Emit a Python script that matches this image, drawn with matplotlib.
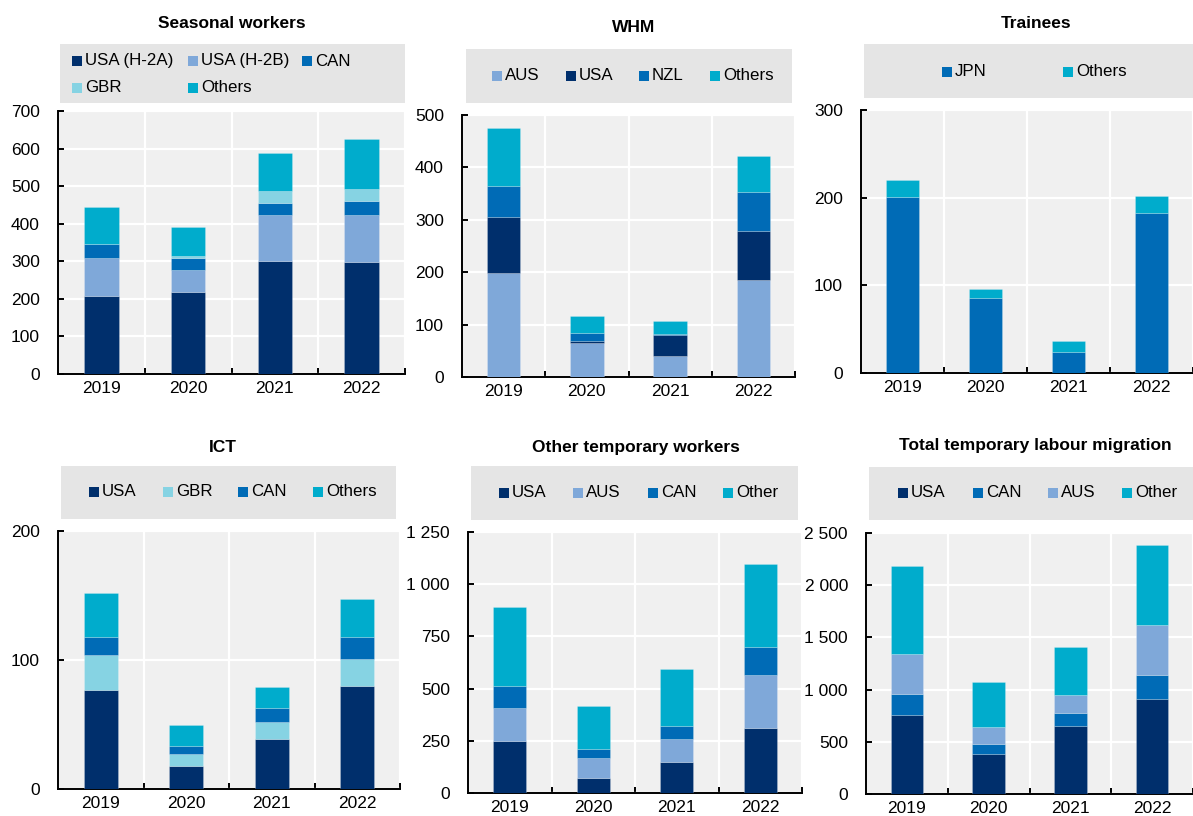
import numpy as np
import matplotlib
matplotlib.use('Agg')
import matplotlib.pyplot as plt
from matplotlib.patches import Rectangle
from matplotlib.ticker import FuncFormatter, FixedLocator

plt.rcParams['font.family'] = ['Liberation Sans', 'DejaVu Sans']

W, H = 1193, 816

NAVY = '#002F6C'
LIGHT = '#7FA8D9'
BLUE = '#006BB6'
PALE = '#86D3E3'
CYAN = '#00ACCC'
PLOT_BG = '#F0F0F0'
BOX_BG = '#E5E5E5'

years = ['2019', '2020', '2021', '2022']

# Seasonal workers (thousands)
seasonal_h2a = [207, 217, 302, 297]
seasonal_h2b = [101, 60, 120, 125]
seasonal_can = [37, 31, 34, 38]
seasonal_gbr = [0, 7, 31, 33]
seasonal_oth = [100, 76, 100, 132]

# Working holiday makers
whm_aus = [198, 65, 41, 186]
whm_usa = [108, 4, 40, 93]
whm_nzl = [59, 15, 1, 75]
whm_oth = [111, 33, 25, 67]

# Trainees
trn_jpn = [201, 86, 24, 182]
trn_oth = [19, 10, 13, 20]

# Intra-company transfers
ict_usa = [77, 18, 39, 80]
ict_gbr = [27, 9, 13, 21]
ict_can = [14, 6, 11, 17]
ict_oth = [34, 17, 16, 29]

# Other temporary workers
otw_usa = [251, 73, 150, 311]
otw_aus = [155, 94, 109, 256]
otw_can = [106, 46, 64, 131]
otw_oth = [381, 204, 273, 399]

# Total temporary labour migration
tot_usa = [755, 379, 653, 911]
tot_can = [204, 99, 124, 229]
tot_aus = [379, 165, 172, 478]
tot_oth = [850, 430, 455, 767]


def fmt_thousands(v, pos):
    return f'{v:,.0f}'.replace(',', ' ')


def stacked_panel(fig, rect, title, title_xy, series, labels, colors, ymax, ystep,
                  box, item_x, item_y):
    ax = fig.add_axes(rect)
    ax.set_facecolor(PLOT_BG)
    x = np.arange(len(years))
    bottom = np.zeros(len(years))
    for vals, col in zip(series, colors):
        vals = np.asarray(vals, dtype=float)
        ax.bar(x, vals, width=0.4, bottom=bottom, color=col,
               edgecolor=(1, 1, 1, 0.35), linewidth=0.4, zorder=3)
        bottom += vals

    ax.set_xlim(-0.5, len(years) - 0.5)
    ax.set_ylim(0, ymax)
    ax.set_yticks(np.arange(0, ymax + 1, ystep))
    ax.yaxis.set_major_formatter(FuncFormatter(fmt_thousands))
    ax.set_xticks(x)
    ax.set_xticklabels(years)
    ax.xaxis.set_minor_locator(FixedLocator([0.5, 1.5, 2.5, 3.5]))

    ax.grid(axis='y', which='major', color='white', linewidth=1.6, zorder=1)
    ax.grid(axis='x', which='minor', color='white', linewidth=1.6, zorder=1)
    ax.set_axisbelow(True)

    for s in ['top', 'right']:
        ax.spines[s].set_visible(False)
    for s in ['left', 'bottom']:
        ax.spines[s].set_linewidth(1.4)
        ax.spines[s].set_color('black')

    ax.tick_params(axis='x', which='major', length=0, pad=5, labelsize=12.5)
    ax.tick_params(axis='x', which='minor', direction='in', length=4, width=1.4)
    ax.tick_params(axis='y', direction='in', length=4, width=1.4, pad=13, labelsize=12.5)

    fig.text(title_xy[0] / W, 1 - title_xy[1] / H, title, ha='center', va='center',
             fontsize=12.5, fontweight='bold')

    # grey legend panel above the plot
    x0, y0, x1, y1 = box
    fig.add_artist(Rectangle((x0 / W, 1 - y1 / H), (x1 - x0) / W, (y1 - y0) / H,
                             transform=fig.transFigure, facecolor=BOX_BG,
                             edgecolor='none', zorder=0))
    sq = 10
    for lab, col, sx, sy in zip(labels, colors, item_x, item_y):
        fig.add_artist(Rectangle((sx / W, 1 - (sy + sq / 2) / H), sq / W, sq / H,
                                 transform=fig.transFigure, facecolor=col,
                                 edgecolor='none'))
        fig.text((sx + sq + 3) / W, 1 - sy / H, lab, ha='left', va='center',
                 fontsize=12.2)
    return ax


fig = plt.figure(figsize=(W / 100, H / 100), dpi=100)

stacked_panel(fig, [58 / W, 1 - 374 / H, 347 / W, 263 / H], 'Seasonal workers', (232, 23),
              [seasonal_h2a, seasonal_h2b, seasonal_can, seasonal_gbr, seasonal_oth],
              ['USA (H-2A)', 'USA (H-2B)', 'CAN', 'GBR', 'Others'],
              [NAVY, LIGHT, BLUE, PALE, CYAN], 700, 100,
              (60, 44, 405, 103), [72, 188, 302, 72, 188], [61, 61, 61, 88, 88])

stacked_panel(fig, [462 / W, 1 - 377 / H, 333 / W, 262 / H], 'WHM', (634, 27),
              [whm_aus, whm_usa, whm_nzl, whm_oth],
              ['AUS', 'USA', 'NZL', 'Others'],
              [LIGHT, NAVY, BLUE, CYAN], 500, 100,
              (466, 49, 792, 103), [492, 566, 639, 710], [76, 76, 76, 76])

stacked_panel(fig, [861 / W, 1 - 373 / H, 332 / W, 263 / H], 'Trainees', (1036, 23),
              [trn_jpn, trn_oth],
              ['JPN', 'Others'],
              [BLUE, CYAN], 300, 100,
              (864, 44, 1193, 98), [942, 1063], [72, 72])

stacked_panel(fig, [58 / W, 1 - 789 / H, 342 / W, 258 / H], 'ICT', (223, 447),
              [ict_usa, ict_gbr, ict_can, ict_oth],
              ['USA', 'GBR', 'CAN', 'Others'],
              [NAVY, PALE, BLUE, CYAN], 200, 100,
              (61, 466, 396, 519), [89, 163, 238, 313], [492, 492, 492, 492])

stacked_panel(fig, [468 / W, 1 - 793 / H, 334 / W, 261 / H], 'Other temporary workers', (636, 447),
              [otw_usa, otw_aus, otw_can, otw_oth],
              ['USA', 'AUS', 'CAN', 'Other'],
              [NAVY, LIGHT, BLUE, CYAN], 1250, 250,
              (471, 466, 798, 520), [499, 573, 648, 723], [493, 493, 493, 493])

stacked_panel(fig, [866 / W, 1 - 794 / H, 327 / W, 261 / H], 'Total temporary labour migration', (1035, 446),
              [tot_usa, tot_can, tot_aus, tot_oth],
              ['USA', 'CAN', 'AUS', 'Other'],
              [NAVY, BLUE, LIGHT, CYAN], 2500, 500,
              (869, 467, 1193, 520), [898, 973, 1048, 1122], [493, 493, 493, 493])

fig.savefig('out.png', dpi=100)
